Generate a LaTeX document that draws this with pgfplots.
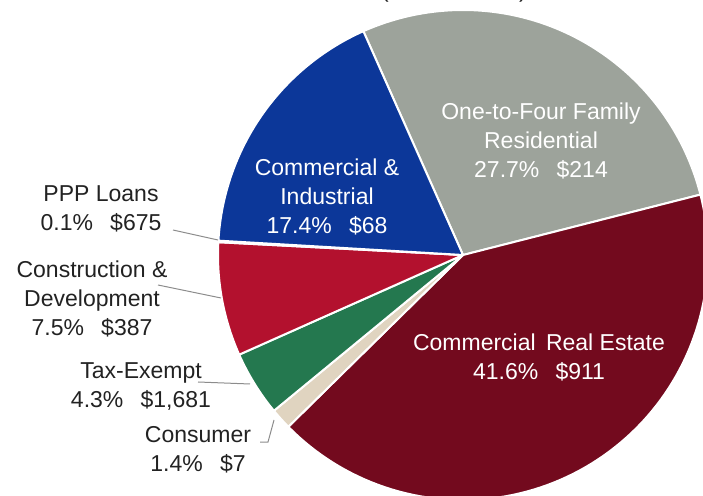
\documentclass[border=0pt]{standalone}
\usepackage{fontspec}
\setmainfont{Liberation Sans}
\usepackage{pgfplots}
\pgfplotsset{compat=1.18}
\definecolor{resi}{HTML}{9DA39B}
\definecolor{cre}{HTML}{730A1E}
\definecolor{cni}{HTML}{0C3799}
\definecolor{cnd}{HTML}{B3112E}
\definecolor{taxex}{HTML}{24784F}
\definecolor{cons}{HTML}{E0D4C0}
\definecolor{ppp}{HTML}{7F7F7F}
\definecolor{leader}{HTML}{8C8C8C}
\definecolor{txt}{HTML}{222222}

% shares in percent, clockwise from the top
\def\pResi{27.7}
\def\pCre{41.6}
\def\pCons{1.4}
\def\pTax{4.3}
\def\pCnd{7.5}
\def\pPpp{0.1}
\def\pCni{17.4}
\pgfmathsetmacro\aA{114}
\pgfmathsetmacro\aB{\aA-\pResi*3.6}
\pgfmathsetmacro\aC{\aB-\pCre*3.6}
\pgfmathsetmacro\aD{\aC-\pCons*3.6}
\pgfmathsetmacro\aE{\aD-\pTax*3.6}
\pgfmathsetmacro\aF{\aE-\pCnd*3.6}
\pgfmathsetmacro\aG{\aF-\pPpp*3.6}
\pgfmathsetmacro\aH{\aG-\pCni*3.6}

\newcommand\lbl{\fontsize{23}{29}\selectfont}
\newcommand\gap{\hspace{0.75em}}

\begin{document}
\begin{tikzpicture}
\useasboundingbox (0,0) rectangle (703pt,495pt);
\begin{axis}[
  at={(0,0)}, anchor=south west,
  x=1pt, y=1pt,
  xmin=0, xmax=703, ymin=0, ymax=495,
  hide axis, clip=true,
  every axis plot/.append style={draw=white, line width=2pt, line join=round, samples=90, variable=\t},
]
\addplot[fill=resi, domain=\aB:\aA] ({463+245*cos(t)}, {240+245*sin(t)}) -- (axis cs:463,240) -- cycle;
\addplot[fill=cre,  domain=\aC:\aB] ({463+245*cos(t)}, {240+245*sin(t)}) -- (axis cs:463,240) -- cycle;
\addplot[fill=cons, domain=\aD:\aC, samples=10] ({463+245*cos(t)}, {240+245*sin(t)}) -- (axis cs:463,240) -- cycle;
\addplot[fill=taxex,domain=\aE:\aD, samples=20] ({463+245*cos(t)}, {240+245*sin(t)}) -- (axis cs:463,240) -- cycle;
\addplot[fill=cnd,  domain=\aF:\aE, samples=30] ({463+245*cos(t)}, {240+245*sin(t)}) -- (axis cs:463,240) -- cycle;
\addplot[fill=ppp,  domain=\aG:\aF, samples=3] ({463+245*cos(t)}, {240+245*sin(t)}) -- (axis cs:463,240) -- cycle;
\addplot[fill=cni,  domain=\aH:\aG, samples=60] ({463+245*cos(t)}, {240+245*sin(t)}) -- (axis cs:463,240) -- cycle;

% labels inside the pie
\node[white, align=center, font=\lbl] at (axis cs:541,354.5) {One-to-Four Family\\Residential\\27.7\%\gap\$214};
\node[white, align=center, font=\lbl] at (axis cs:327,298.5) {Commercial \&\\Industrial\\17.4\%\gap\$68};
\node[white, align=center, font=\lbl] at (axis cs:539,137.5) {Commercial\hspace{0.45em}Real Estate\\41.6\%\gap\$911};

% labels outside with leader lines
\draw[leader, line width=1pt] (axis cs:173,265) -- (axis cs:218,255);
\draw[leader, line width=1pt] (axis cs:158,210) -- (axis cs:221,197);
\draw[leader, line width=1pt] (axis cs:198,113) -- (axis cs:250,111);
\draw[leader, line width=1pt] (axis cs:260,53) -- (axis cs:268,53) -- (axis cs:274,75);
\node[txt, align=center, font=\lbl] at (axis cs:101,286.5) {PPP Loans\\0.1\%\gap\$675};
\node[txt, align=center, font=\lbl] at (axis cs:92,196) {Construction \&\\Development\\7.5\%\gap\$387};
\node[txt, align=center, font=\lbl] at (axis cs:141,108.5) {Tax-Exempt\\4.3\%\gap\$1,681};
\node[txt, align=center, font=\lbl] at (axis cs:198,45.5) {Consumer\\1.4\%\gap\$7};
\end{axis}
% title line, almost all of it above the page
\node[txt, anchor=base, font=\lbl] at (454pt,497pt) {(in thousands)};
\end{tikzpicture}
\end{document}
